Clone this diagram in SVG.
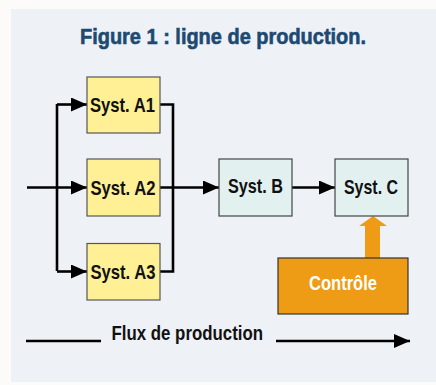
<svg xmlns="http://www.w3.org/2000/svg" width="436" height="385" viewBox="0 0 436 385">
<style>
.ln{fill:none;stroke:#000;stroke-width:2.6}
.ya{fill:#fff096;stroke:#555;stroke-width:1.2}
.bl{fill:#e3f0f0;stroke:#444;stroke-width:1.2}
.t{font-family:"Liberation Sans",Arial,sans-serif;font-weight:bold;font-size:20.5px;fill:#111}
</style>
<defs>
<marker id="ah" markerUnits="userSpaceOnUse" markerWidth="16" markerHeight="14" refX="16" refY="7" orient="auto">
<path d="M0,0 L16,7 L0,14 Z" fill="#000"/>
</marker>
</defs>
<rect x="0" y="0" width="436" height="385" fill="#fcfbf9"/>
<rect x="11" y="9" width="425" height="373" fill="#eef2f6"/>
<text x="80" y="43.5" font-family="Liberation Sans,Arial,sans-serif" font-weight="bold" font-size="22" fill="#1d4a72" stroke="#1d4a72" stroke-width="0.6" textLength="286" lengthAdjust="spacingAndGlyphs">Figure 1  : ligne de production.</text>
<g id="connectors">
<path class="ln" d="M27,187.5 L87,187.5" marker-end="url(#ah)"/>
<path class="ln" d="M57,104 L57,271"/>
<path class="ln" d="M57,104.5 L87,104.5" marker-end="url(#ah)"/>
<path class="ln" d="M57,271.5 L87,271.5" marker-end="url(#ah)"/>
<path class="ln" d="M160,104.5 L173,104.5 L173,271.5 L160,271.5"/>
<path class="ln" d="M160,187.5 L219,187.5" marker-end="url(#ah)"/>
<path class="ln" d="M292,187.5 L335,187.5" marker-end="url(#ah)"/>
<path d="M365,258 L365,226 L359,226 L373,216 L387,226 L380,226 L380,258 Z" fill="#ee9b15"/>
<path class="ln" d="M26,341 L101,341"/>
<path class="ln" d="M276,341 L410,341" marker-end="url(#ah)"/>
</g>
<g id="A1"><rect class="ya" x="87" y="77" width="73" height="56"/><text class="t" x="90" y="111.5" textLength="65" lengthAdjust="spacingAndGlyphs">Syst. A1</text></g>
<g id="A2"><rect class="ya" x="87" y="159" width="73" height="57"/><text class="t" x="90.5" y="194.5" textLength="65" lengthAdjust="spacingAndGlyphs">Syst. A2</text></g>
<g id="A3"><rect class="ya" x="87" y="243.5" width="73" height="56.5"/><text class="t" x="90.5" y="278.5" textLength="65" lengthAdjust="spacingAndGlyphs">Syst. A3</text></g>
<g id="B"><rect class="bl" x="219" y="159" width="73" height="57"/><text class="t" x="228" y="193" textLength="55" lengthAdjust="spacingAndGlyphs">Syst. B</text></g>
<g id="C"><rect class="bl" x="335" y="159" width="73" height="57"/><text class="t" x="344" y="193.5" textLength="54" lengthAdjust="spacingAndGlyphs">Syst. C</text></g>
<g id="controle"><rect x="278" y="258" width="130" height="56" fill="#ee9b15" stroke="#333" stroke-width="1.2"/><text class="t" x="309" y="290" style="fill:#fff" textLength="68" lengthAdjust="spacingAndGlyphs">Contrôle</text></g>
<text class="t" x="111.5" y="339.5" textLength="151.5" lengthAdjust="spacingAndGlyphs">Flux de production</text>
</svg>
